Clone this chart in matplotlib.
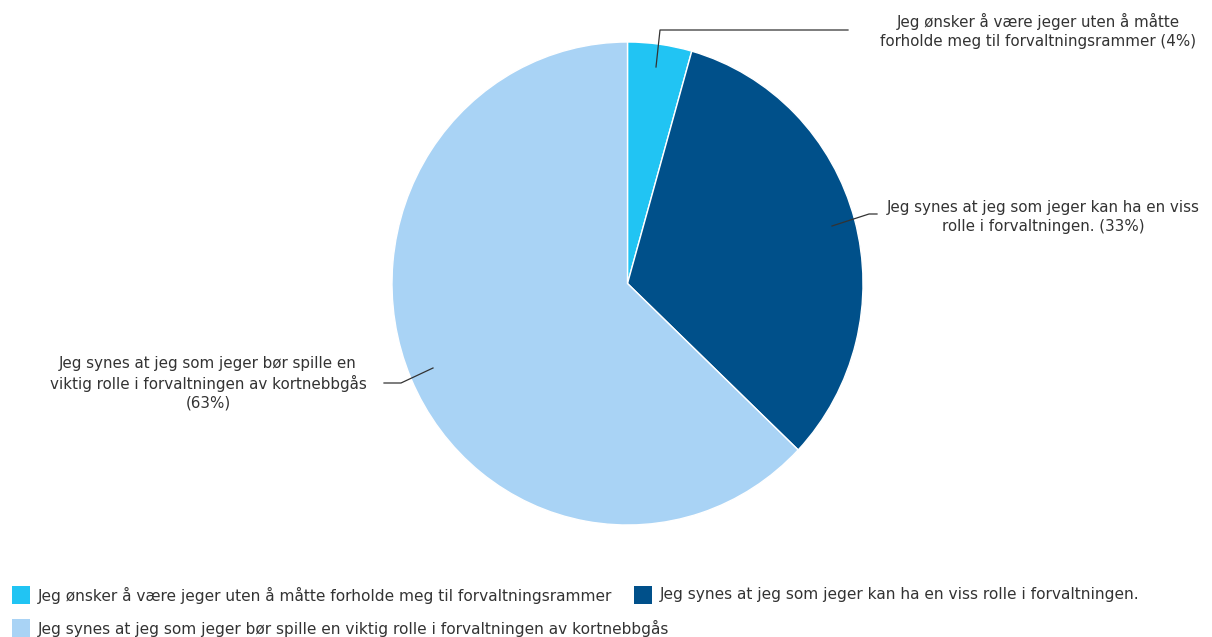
import matplotlib
matplotlib.use("Agg")
import matplotlib.pyplot as plt
from matplotlib.patches import Rectangle

plt.rcParams['font.family'] = ['DejaVu Sans']

categories = [
    "Jeg ønsker å være jeger uten å måtte forholde meg til forvaltningsrammer",
    "Jeg synes at jeg som jeger kan ha en viss rolle i forvaltningen.",
    "Jeg synes at jeg som jeger bør spille en viktig rolle i forvaltningen av kortnebbgås",
]
label_texts = [
    "Jeg ønsker å være jeger uten å måtte\nforholde meg til forvaltningsrammer",
    "Jeg synes at jeg som jeger kan ha en viss\nrolle i forvaltningen.",
    "Jeg synes at jeg som jeger bør spille en\nviktig rolle i forvaltningen av kortnebbgås\n",
]
values = [4.4, 32.7, 62.9]
pct_labels = ["4%", "33%", "63%"]
colors = ["#21c4f3", "#00508a", "#a9d3f5"]

W, H = 1212, 637
fig = plt.figure(figsize=(W / 100, H / 100), dpi=100)
fig.patch.set_facecolor("white")

cx, cy, rx, ry = 627.5, 283.5, 235.5, 241.5
ax = fig.add_axes([(cx - rx) / W, (H - cy - ry) / H, 2 * rx / W, 2 * ry / H])
wedges, _ = ax.pie(values, colors=colors, startangle=90, counterclock=False,
                   radius=1.0, wedgeprops=dict(edgecolor="white", linewidth=1.0))
ax.set_xlim(-1, 1)
ax.set_ylim(-1, 1)
ax.set_aspect("auto")
ax.axis("off")

def px(x, y):
    return (x / W, 1 - y / H)

txt_color = "#333333"
fs = 10.9
fs_leg = 11.1

leaders = [
    [(656, 67), (660, 30), (848, 30)],
    [(832, 226), (869, 214), (877, 214)],
    [(433, 368), (401, 383), (384, 383)],
]
for pts in leaders:
    xs = [p[0] / W for p in pts]
    ys = [1 - p[1] / H for p in pts]
    fig.add_artist(plt.Line2D(xs, ys, transform=fig.transFigure, color="#333333", lw=0.9))

label_pos = [(1038, 31), (1043, 217), (208, 383)]
for i, (t, (x, y)) in enumerate(zip(label_texts, label_pos)):
    if i == 2:
        text = t + "(" + pct_labels[i] + ")"
    else:
        text = t + " (" + pct_labels[i] + ")"
    fig.text(*px(x, y), text, ha="center", va="center", fontsize=fs,
             color=txt_color, linespacing=1.3, multialignment="center")

leg_items = [(12, 595, 0), (634, 595, 1), (12, 628, 2)]
sq = 18
for x, y, i in leg_items:
    fig.add_artist(Rectangle((x / W, 1 - (y + sq / 2) / H), sq / W, sq / H,
                             transform=fig.transFigure, facecolor=colors[i], edgecolor="none"))
    fig.text(*px(x + 26, y), categories[i], ha="left", va="center", fontsize=fs_leg, color=txt_color)

fig.savefig("out.png", dpi=100, facecolor="white")
